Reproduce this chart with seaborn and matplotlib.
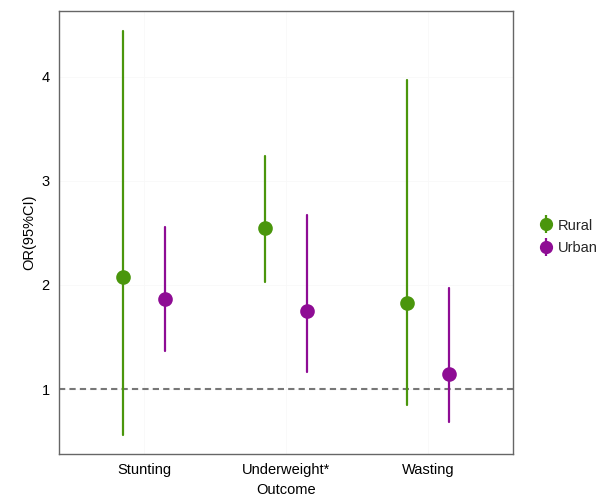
import matplotlib
matplotlib.use("Agg")
import matplotlib.pyplot as plt
from matplotlib.lines import Line2D
from matplotlib.legend_handler import HandlerTuple
import pandas as pd
import seaborn as sns

outcomes = ["Stunting", "Underweight*", "Wasting"]
groups = ["Rural", "Urban"]

# odds ratios with 95% CI
rural_or = [2.08, 2.55, 1.83]
rural_lo = [0.56, 2.03, 0.85]
rural_hi = [4.44, 3.24, 3.97]
urban_or = [1.87, 1.75, 1.14]
urban_lo = [1.37, 1.16, 0.68]
urban_hi = [2.56, 2.67, 1.97]

colores = {"Rural": "#4A960C", "Urban": "#8E0C94"}

filas = []
for i, out in enumerate(outcomes):
    for g, est, lo, hi in [("Rural", rural_or, rural_lo, rural_hi),
                           ("Urban", urban_or, urban_lo, urban_hi)]:
        for v in (lo[i], est[i], hi[i]):
            filas.append({"Outcome": out, "group": g, "OR": v})
df = pd.DataFrame(filas)

sns.set_style("white")
plt.rcParams["font.family"] = ["Liberation Sans", "DejaVu Sans"]

fig = plt.figure(figsize=(6.01, 4.97), dpi=100)
ax = fig.add_axes([0.098, 0.0865, 0.756, 0.8915])

ax.axhline(1, color="#777777", linestyle=(0, (3, 2)), linewidth=1.5, zorder=1)

sns.pointplot(
    data=df, x="Outcome", y="OR", hue="group",
    order=outcomes, hue_order=groups, palette=colores,
    estimator="median", errorbar=("pi", 100),
    dodge=0.3, linestyle="none", markers="o", markersize=8.5,
    err_kws={"linewidth": 1.6}, legend=False, ax=ax,
)

ax.set_xlim(-0.6, 2.6)
ax.set_ylim(0.375, 4.635)
ax.set_yticks([1, 2, 3, 4])
ax.grid(True, color="#f8f8f8", linewidth=0.6)
ax.set_axisbelow(True)
for s in ax.spines.values():
    s.set_color("#666666")
    s.set_linewidth(1.0)
ax.tick_params(axis="both", length=3, color="#888888", labelsize=10.5, labelcolor="black")
ax.set_xlabel("Outcome", fontsize=10.5, color="black")
ax.set_ylabel("OR(95%CI)", fontsize=10.5, color="black")

handles = []
for g in groups:
    barra = Line2D([], [], color=colores[g], marker="|", markersize=13,
                   markeredgewidth=1.6, linestyle="none")
    punto = Line2D([], [], color=colores[g], marker="o", markersize=8.5, linestyle="none")
    handles.append((barra, punto))
ax.legend(handles, groups, handler_map={tuple: HandlerTuple(ndivide=1)},
          loc="center left", bbox_to_anchor=(1.028, 0.49), frameon=False,
          fontsize=10.5, handlelength=1.0, handletextpad=0.3, labelspacing=0.6)

fig.savefig("out.png", dpi=100)
